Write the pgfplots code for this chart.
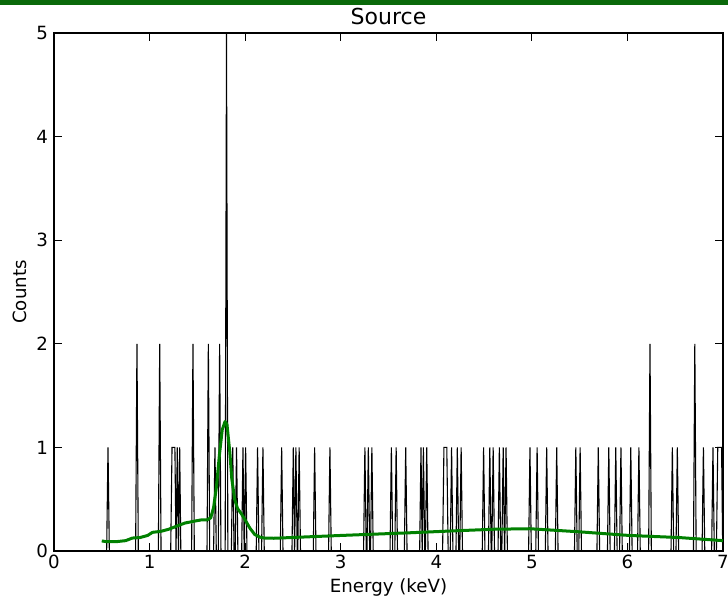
\documentclass[border=0pt]{standalone}
\usepackage{pgfplots}
\pgfplotsset{compat=1.18}
\usepackage{fontspec}
\setmainfont{DejaVu Sans}
\definecolor{mplgreen}{RGB}{0,128,0}
\definecolor{bandgreen}{RGB}{10,105,10}
\begin{document}
\begin{tikzpicture}
\begin{axis}[
  scale only axis,
  width=334.5pt, height=259pt,
  xmin=0, xmax=7, ymin=0, ymax=5,
  xtick={0,1,2,3,4,5,6,7}, ytick={0,1,2,3,4,5},
  tick align=inside,
  xtick pos=both, ytick pos=both,
  xticklabel pos=lower, yticklabel pos=left,
  major tick length=4pt,
  tick style={black, line width=0.5pt},
  axis line style={black, line width=0.6pt},
  /pgf/number format/assume math mode=true,
  ticklabel style={font=\fontsize{9.1}{11}\selectfont},
  xticklabel style={yshift=1.5pt},
  yticklabel style={xshift=0.5pt},
  label style={font=\fontsize{9.1}{11}\selectfont},
  every axis title shift=0pt,
  title={Source},
  title style={font=\fontsize{11}{13}\selectfont, at={(axis description cs:0.5,1.031)}, anchor=center},
  xlabel={Energy (keV)}, ylabel={Counts},
  xlabel style={at={(axis description cs:0.5,-0.0695)}, anchor=center},
  ylabel style={at={(axis description cs:-0.0508,0.5)}, anchor=center},
]
\coordinate (sw) at (rel axis cs:0,0);
\coordinate (ne) at (rel axis cs:1,1);
\addplot[black, line width=0.55pt, line join=miter] coordinates {
(0.30,0) (0.551,0) (0.565,1) (0.579,0)
(0.854,0) (0.868,2) (0.882,0)
(1.092,0) (1.106,2) (1.120,0)
(1.221,0) (1.235,1) (1.265,1) (1.277,0)
(1.29,1) (1.302,0)
(1.303,0) (1.315,1) (1.327,0)
(1.440,0) (1.454,2) (1.468,0)
(1.601,0) (1.615,2) (1.629,0)
(1.670,0) (1.684,1) (1.698,0)
(1.719,0) (1.733,2) (1.747,0)
(1.791,0) (1.805,5) (1.819,0)
(1.856,0) (1.870,1) (1.884,0)
(1.896,0) (1.910,1) (1.924,0)
(1.964,0) (1.977,1) (1.990,0)
(1.992,0) (2.005,1) (2.019,0)
(2.116,0) (2.130,1) (2.144,0)
(2.172,0) (2.186,1) (2.200,0)
(2.368,0) (2.382,1) (2.396,0)
(2.490,0) (2.504,1) (2.517,0)
(2.518,0) (2.531,1) (2.545,0)
(2.551,0) (2.565,1) (2.579,0)
(2.713,0) (2.727,1) (2.741,0)
(2.873,0) (2.887,1) (2.901,0)
(3.239,0) (3.253,1) (3.267,0)
(3.275,0) (3.289,1) (3.303,0)
(3.312,0) (3.326,1) (3.340,0)
(3.516,0) (3.530,1) (3.544,0)
(3.566,0) (3.580,1) (3.594,0)
(3.666,0) (3.680,1) (3.694,0)
(3.826,0) (3.840,1) (3.852,0)
(3.853,0) (3.865,1) (3.879,0)
(3.886,0) (3.900,1) (3.914,0)
(4.066,0) (4.080,1) (4.110,1) (4.124,0)
(4.146,0) (4.160,1) (4.174,0)
(4.206,0) (4.220,1) (4.234,0)
(4.246,0) (4.260,1) (4.274,0)
(4.481,0) (4.495,1) (4.509,0)
(4.546,0) (4.560,1) (4.574,0)
(4.581,0) (4.595,1) (4.609,0)
(4.646,0) (4.660,1) (4.674,0)
(4.686,0) (4.700,1) (4.714,0)
(4.716,0) (4.730,1) (4.744,0)
(4.966,0) (4.980,1) (4.994,0)
(5.041,0) (5.055,1) (5.069,0)
(5.141,0) (5.155,1) (5.169,0)
(5.246,0) (5.260,1) (5.274,0)
(5.446,0) (5.460,1) (5.474,0)
(5.491,0) (5.505,1) (5.519,0)
(5.681,0) (5.695,1) (5.709,0)
(5.791,0) (5.805,1) (5.819,0)
(5.864,0) (5.878,1) (5.892,0)
(5.918,0) (5.932,1) (5.946,0)
(6.021,0) (6.035,1) (6.049,0)
(6.106,0) (6.120,1) (6.134,0)
(6.222,0) (6.236,2) (6.250,0)
(6.456,0) (6.470,1) (6.484,0)
(6.508,0) (6.522,1) (6.536,0)
(6.691,0) (6.705,2) (6.719,0)
(6.781,0) (6.795,1) (6.809,0)
(6.881,0) (6.895,1) (6.909,0)
(6.931,0) (6.945,1) (6.985,1) (6.997,0)
};
\addplot[mplgreen, line width=1.5pt, line join=round] coordinates {
(0.50,0.097) (0.55,0.09) (0.65,0.09) (0.75,0.10) (0.82,0.125) (0.90,0.13)
(0.98,0.15) (1.03,0.18) (1.12,0.19) (1.20,0.21) (1.27,0.235) (1.37,0.27)
(1.48,0.29) (1.54,0.30) (1.60,0.30) (1.64,0.32) (1.67,0.42) (1.70,0.62)
(1.73,0.92) (1.76,1.17) (1.79,1.25) (1.81,1.22) (1.84,0.95) (1.86,0.70)
(1.89,0.50) (1.92,0.41) (1.96,0.36) (2.00,0.30) (2.05,0.22) (2.10,0.16)
(2.15,0.135) (2.20,0.125) (2.30,0.123) (3.00,0.15) (3.70,0.175) (4.20,0.195)
(4.60,0.21) (4.98,0.215) (5.50,0.185) (6.02,0.15) (6.54,0.13) (7.00,0.10)
};
\end{axis}
\pgfresetboundingbox
\path[use as bounding box] ([shift={(-27pt,-25.5pt)}]sw) rectangle ([shift={(2.5pt,16.5pt)}]ne);
\fill[bandgreen] ([shift={(-27pt,16.5pt)}]sw |- ne) rectangle ([shift={(2.5pt,14.2pt)}]ne);
\end{tikzpicture}
\end{document}
